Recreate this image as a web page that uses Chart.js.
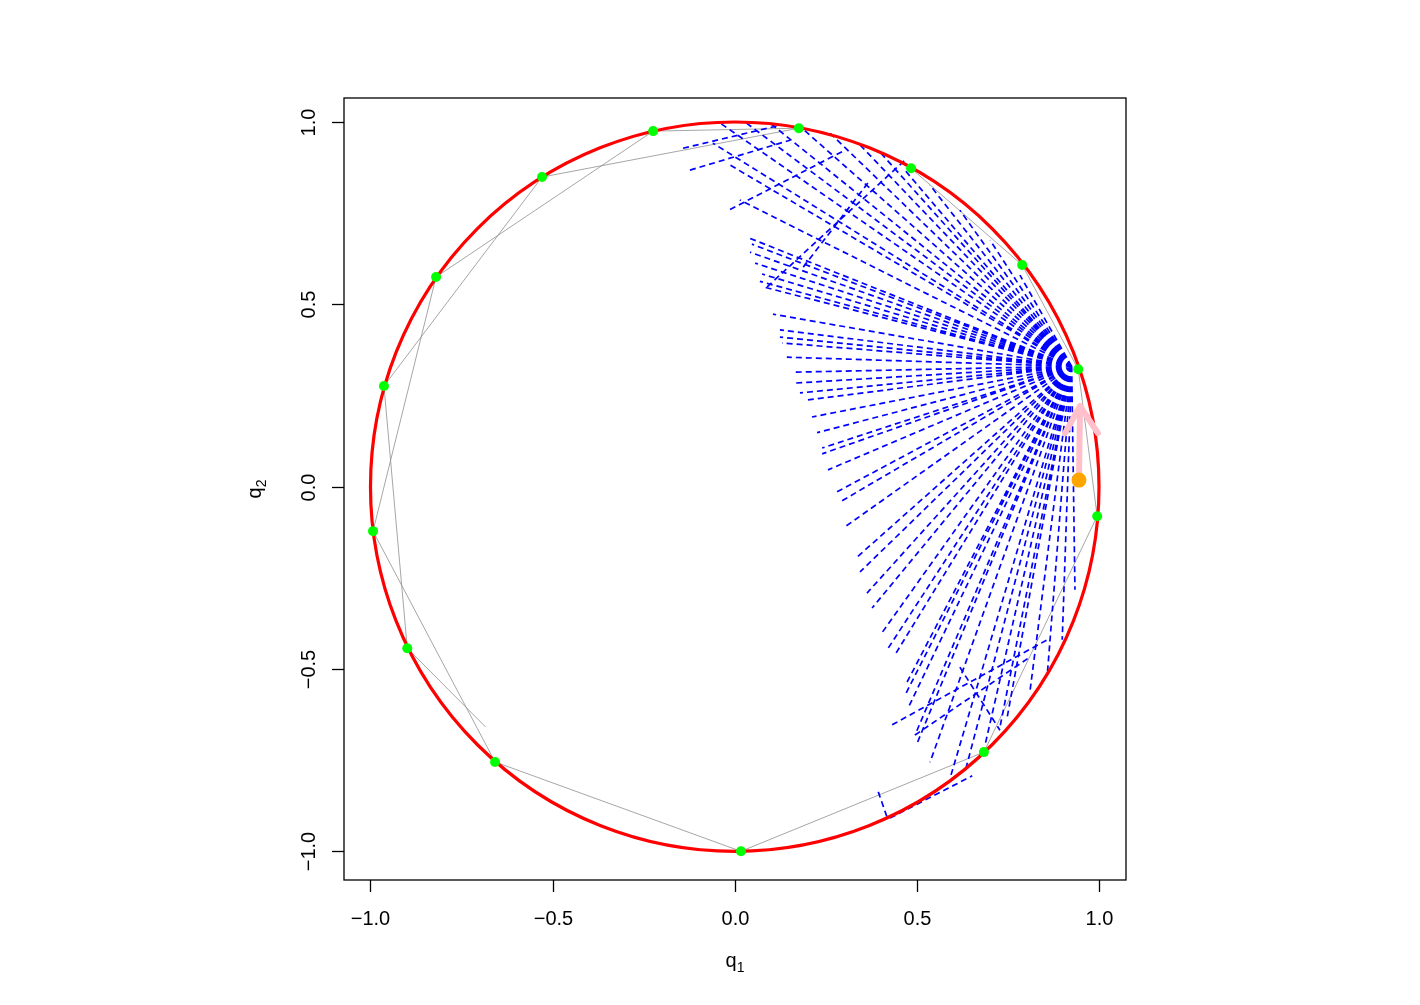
<!DOCTYPE html>
<html>
<head>
  <meta charset="UTF-8">
  <title>q1 / q2 trajectories</title>
  <script src="https://cdn.jsdelivr.net/npm/chart.js@4.4.1/dist/chart.umd.min.js"></script>
  <style>
    * { margin: 0; padding: 0; box-sizing: border-box; }
    body { background: #fff; }
    #wrap { width: 1420px; height: 1005px; }
  </style>
</head>
<body>
<div id="wrap"><canvas id="chart" width="1420" height="1005"></canvas></div>
<script>
// axis ranges (R style, asp = 1) and ticks
const xRange = [-1.0727, 1.0741];
const yRange = [-1.0787, 1.0658];
const xTicks = [-1, -0.5, 0, 0.5, 1];
const yTicks = [-1, -0.5, 0, 0.5, 1];
const xTickLabels = ["\u22121.0", "\u22120.5", "0.0", "0.5", "1.0"];
const yTickLabels = ["\u22121.0", "\u22120.5", "0.0", "0.5", "1.0"];

// unit circle
const circleCenter = [0, 0];
const circleRadius = 1;

// chain path (gray), in visiting order
const pathX = [-0.684, -0.899, -0.963, -0.529, 0.176, -0.224, -0.820, -0.993, -0.658, 0.017, 0.684, 0.995, 0.943, 0.789, 0.484];
const pathY = [-0.659, -0.443, 0.276, 0.849, 0.983, 0.975, 0.575, -0.122, -0.755, -1.000, -0.728, -0.081, 0.322, 0.608, 0.873];

// samples (green)
const sampleX = [-0.224, 0.176, 0.484, 0.789, 0.943, 0.995, 0.684, 0.017, -0.658, -0.899, -0.993, -0.963, -0.820, -0.529];
const sampleY = [0.975, 0.983, 0.873, 0.608, 0.322, -0.081, -0.728, -1.000, -0.755, -0.443, -0.122, 0.276, 0.575, 0.849];

// dashed trajectories fanning out from the current state
const rayStart = [0.925, 0.330];
const rayEndX = [
  -0.040, -0.060, -0.013, 0.014, 0.034, 0.047, 0.042, 0.056, 0.075, 0.069,
  0.078, 0.105, 0.124, 0.124, 0.130, 0.143, 0.165, 0.165, 0.179, 0.201,
  0.212, 0.226, 0.240, 0.240, 0.256, 0.281, 0.289, 0.303, 0.336, 0.344,
  0.363, 0.377, 0.404, 0.418, 0.440, 0.473, 0.468, 0.476, 0.495, 0.501,
  0.536, 0.591, 0.632, 0.687, 0.728, 0.748, 0.811, 0.858, 0.899, 0.934,
  0.179, 0.262, 0.344, 0.399, 0.467, 0.536, 0.618, 0.701, 0.783, 0.097,
  0.028
];
const rayEndY = [
  0.997, 0.942, 0.882, 0.786, 0.684, 0.665, 0.643, 0.613, 0.583, 0.563,
  0.548, 0.473, 0.430, 0.410, 0.394, 0.355, 0.314, 0.284, 0.257, 0.238,
  0.191, 0.148, 0.106, 0.090, 0.046, -0.014, -0.042, -0.110, -0.193, -0.234,
  -0.292, -0.333, -0.401, -0.448, -0.461, -0.536, -0.571, -0.607, -0.681, -0.703,
  -0.756, -0.800, -0.783, -0.709, -0.660, -0.632, -0.557, -0.516, -0.420, -0.283,
  0.988, 0.969, 0.937, 0.917, 0.868, 0.827, 0.758, 0.676, 0.580, 0.997,
  1.000
];

// other dashed pieces crossing the fan
const crossX0 = [-0.142, -0.123, -0.013, 0.089, 0.188, 0.432, 0.495, 0.394, 0.618, 0.426];
const crossY0 = [0.928, 0.868, 0.760, 0.548, 0.602, -0.653, -0.681, -0.837, -0.495, -0.909];
const crossX1 = [0.124, 0.152, 0.303, 0.468, 0.372, 0.858, 0.811, 0.418, 0.728, 0.652];
const crossY1 = [0.991, 0.950, 0.923, 0.896, 0.841, -0.420, -0.467, -0.906, -0.668, -0.793];

// momentum arrow (pink) and start point (orange)
const startPoint = [0.945, 0.018];
const arrowTip = [0.948, 0.221];
const arrowWingL = [0.907, 0.147];
const arrowWingR = [0.997, 0.147];

const GAP = { x: NaN, y: NaN };

const rayData = [];
rayEndX.forEach((x, i) => {
  rayData.push({ x: rayStart[0], y: rayStart[1] }, { x: x, y: rayEndY[i] }, GAP);
});

const crossData = [];
crossX0.forEach((x, i) => {
  crossData.push({ x: x, y: crossY0[i] }, { x: crossX1[i], y: crossY1[i] }, GAP);
});

const FONT = "'Liberation Sans', Arial, Helvetica, sans-serif";

// red circle drawn right after the dashed lines, under the points
const circlePlugin = {
  id: "unitCircle",
  afterDatasetDraw(chart, args) {
    if (chart.data.datasets[args.index].label !== "cross") return;
    const xs = chart.scales.x, ys = chart.scales.y, ctx = chart.ctx;
    const cx = xs.getPixelForValue(circleCenter[0]);
    const cy = ys.getPixelForValue(circleCenter[1]);
    const rx = xs.getPixelForValue(circleCenter[0] + circleRadius) - cx;
    const ry = cy - ys.getPixelForValue(circleCenter[1] + circleRadius);
    ctx.save();
    ctx.beginPath();
    ctx.ellipse(cx, cy, rx, ry, 0, 0, Math.PI * 2);
    ctx.strokeStyle = "#ff0000";
    ctx.lineWidth = 3.2;
    ctx.stroke();
    ctx.restore();
  }
};

// R-like box, ticks and labels
const framePlugin = {
  id: "rFrame",
  afterDraw(chart) {
    const { ctx, chartArea: a } = chart;
    const xs = chart.scales.x, ys = chart.scales.y;
    ctx.save();
    ctx.strokeStyle = "#000";
    ctx.lineWidth = 1.3;
    ctx.strokeRect(a.left, a.top, a.right - a.left, a.bottom - a.top);

    ctx.fillStyle = "#000";
    ctx.font = "20px " + FONT;
    ctx.textAlign = "center";
    ctx.textBaseline = "alphabetic";
    xTicks.forEach((v, i) => {
      const px = Math.round(xs.getPixelForValue(v)) + 0.5;
      ctx.beginPath();
      ctx.moveTo(px, a.bottom);
      ctx.lineTo(px, a.bottom + 12);
      ctx.stroke();
      ctx.fillText(xTickLabels[i], px, a.bottom + 45);
    });
    yTicks.forEach((v, i) => {
      const py = Math.round(ys.getPixelForValue(v)) + 0.5;
      ctx.beginPath();
      ctx.moveTo(a.left, py);
      ctx.lineTo(a.left - 12, py);
      ctx.stroke();
      ctx.save();
      ctx.translate(a.left - 29, py);
      ctx.rotate(-Math.PI / 2);
      ctx.fillText(yTickLabels[i], 0, 0);
      ctx.restore();
    });

    // axis titles q1 / q2 with subscripts
    const midX = (a.left + a.right) / 2;
    ctx.textAlign = "left";
    ctx.font = "20px " + FONT;
    const qw = ctx.measureText("q").width;
    ctx.font = "14px " + FONT;
    const sw = ctx.measureText("1").width;
    let x0 = midX - (qw + sw) / 2;
    ctx.font = "20px " + FONT;
    ctx.fillText("q", x0, 967);
    ctx.font = "14px " + FONT;
    ctx.fillText("1", x0 + qw, 972);

    const midY = (a.top + a.bottom) / 2;
    ctx.save();
    ctx.translate(261, midY);
    ctx.rotate(-Math.PI / 2);
    x0 = -(qw + sw) / 2;
    ctx.font = "20px " + FONT;
    ctx.fillText("q", x0, 0);
    ctx.font = "14px " + FONT;
    ctx.fillText("2", x0 + qw, 5);
    ctx.restore();
    ctx.restore();
  }
};

new Chart(document.getElementById("chart"), {
  type: "scatter",
  data: {
    datasets: [
      {
        label: "path",
        data: pathX.map((x, i) => ({ x: x, y: pathY[i] })),
        showLine: true,
        borderColor: "#8f8f8f",
        borderWidth: 0.8,
        pointRadius: 0,
        order: 6
      },
      {
        label: "rays",
        data: rayData,
        showLine: true,
        spanGaps: false,
        borderColor: "#0000ff",
        borderWidth: 1.7,
        borderDash: [6, 4],
        pointRadius: 0,
        order: 5
      },
      {
        label: "cross",
        data: crossData,
        showLine: true,
        spanGaps: false,
        borderColor: "#0000ff",
        borderWidth: 1.7,
        borderDash: [6, 4],
        pointRadius: 0,
        order: 4
      },
      {
        label: "samples",
        data: sampleX.map((x, i) => ({ x: x, y: sampleY[i] })),
        showLine: false,
        pointRadius: 5,
        pointBackgroundColor: "#00ff00",
        pointBorderWidth: 0,
        order: 2
      },
      {
        label: "arrow",
        data: [
          { x: startPoint[0], y: startPoint[1] }, { x: arrowTip[0], y: arrowTip[1] }, GAP,
          { x: arrowWingL[0], y: arrowWingL[1] }, { x: arrowTip[0], y: arrowTip[1] },
          { x: arrowWingR[0], y: arrowWingR[1] }
        ],
        showLine: true,
        spanGaps: false,
        borderColor: "#ffc0cb",
        borderWidth: 6,
        borderCapStyle: "round",
        borderJoinStyle: "round",
        pointRadius: 0,
        order: 1
      },
      {
        label: "start",
        data: [{ x: startPoint[0], y: startPoint[1] }],
        pointRadius: 7.5,
        pointBackgroundColor: "#ffa500",
        pointBorderWidth: 0,
        order: 0
      }
    ]
  },
  options: {
    responsive: false,
    animation: false,
    devicePixelRatio: 1,
    layout: { padding: { left: 344, right: 294, top: 98, bottom: 125 } },
    plugins: { legend: { display: false }, tooltip: { enabled: false } },
    events: [],
    scales: {
      x: { type: "linear", min: xRange[0], max: xRange[1], bounds: "data", display: false },
      y: { type: "linear", min: yRange[0], max: yRange[1], bounds: "data", display: false }
    }
  },
  plugins: [circlePlugin, framePlugin]
});
</script>
</body>
</html>
